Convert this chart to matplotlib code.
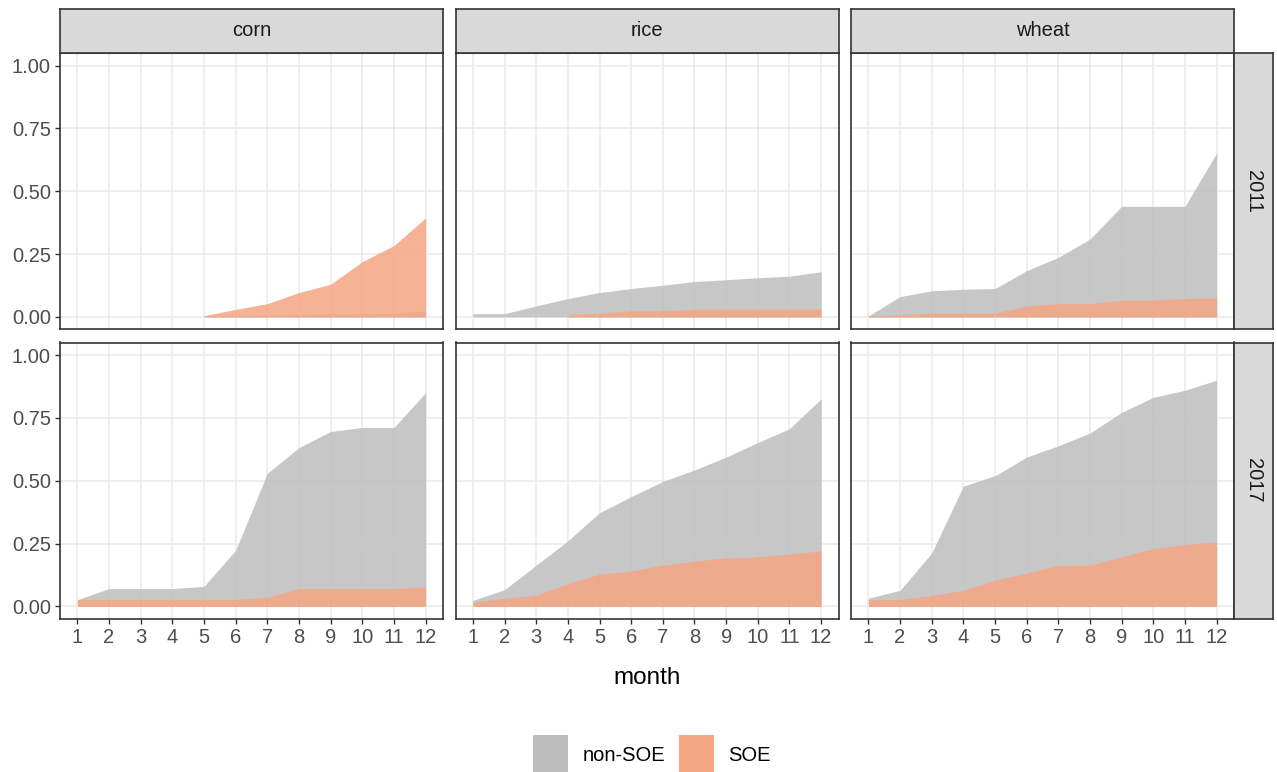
import numpy as np
import matplotlib
matplotlib.use("Agg")
import matplotlib.pyplot as plt
from matplotlib.patches import Patch

nan = np.nan

months = np.arange(1, 13)
crops = ["corn", "rice", "wheat"]
years = ["2011", "2017"]
ytick_values = [0.0, 0.25, 0.5, 0.75, 1.0]

# cumulative share by month
corn_2011_nonsoe = [nan, nan, nan, nan, 0.005, 0.005, 0.006, 0.008, 0.010, 0.012, 0.013, 0.025]
corn_2011_soe = [nan, nan, nan, nan, 0.005, 0.030, 0.053, 0.097, 0.130, 0.220, 0.284, 0.394]
rice_2011_nonsoe = [0.013, 0.013, 0.044, 0.073, 0.097, 0.113, 0.126, 0.141, 0.148, 0.156, 0.162, 0.180]
rice_2011_soe = [nan, nan, nan, 0.007, 0.015, 0.024, 0.024, 0.031, 0.031, 0.031, 0.031, 0.031]
wheat_2011_nonsoe = [0.004, 0.081, 0.104, 0.110, 0.113, 0.184, 0.237, 0.310, 0.440, 0.440, 0.440, 0.652]
wheat_2011_soe = [0.004, 0.007, 0.015, 0.015, 0.015, 0.044, 0.053, 0.053, 0.067, 0.067, 0.073, 0.075]

corn_2017_nonsoe = [0.027, 0.071, 0.071, 0.071, 0.080, 0.224, 0.530, 0.632, 0.696, 0.712, 0.712, 0.850]
corn_2017_soe = [0.027, 0.027, 0.027, 0.027, 0.027, 0.027, 0.037, 0.071, 0.071, 0.071, 0.071, 0.077]
rice_2017_nonsoe = [0.024, 0.067, 0.164, 0.261, 0.373, 0.437, 0.497, 0.543, 0.594, 0.652, 0.707, 0.826]
rice_2017_soe = [0.017, 0.033, 0.044, 0.091, 0.128, 0.141, 0.164, 0.180, 0.193, 0.197, 0.208, 0.221]
wheat_2017_nonsoe = [0.033, 0.064, 0.213, 0.479, 0.520, 0.594, 0.639, 0.690, 0.772, 0.832, 0.860, 0.900]
wheat_2017_soe = [0.027, 0.027, 0.044, 0.064, 0.104, 0.133, 0.164, 0.164, 0.197, 0.230, 0.246, 0.257]

series = {
    ("2011", "corn"): (corn_2011_nonsoe, corn_2011_soe),
    ("2011", "rice"): (rice_2011_nonsoe, rice_2011_soe),
    ("2011", "wheat"): (wheat_2011_nonsoe, wheat_2011_soe),
    ("2017", "corn"): (corn_2017_nonsoe, corn_2017_soe),
    ("2017", "rice"): (rice_2017_nonsoe, rice_2017_soe),
    ("2017", "wheat"): (wheat_2017_nonsoe, wheat_2017_soe),
}

GRAY = "#BEBEBE"
ORANGE = "#F4A582"
EDGE = "#333333"
STRIP = "#D9D9D9"

plt.rcParams["font.family"] = ["Liberation Sans", "DejaVu Sans"]

W, H = 1277, 772
fig = plt.figure(figsize=(W / 100, H / 100), dpi=100)


def px_axes(x0, y0, w, h):
    return fig.add_axes([x0 / W, 1 - (y0 + h) / H, w / W, h / H])


col_left = [60, 455.5, 851]
col_w = 383
row_top = [53, 342.5]
row_h = 276.5

for r, year in enumerate(years):
    for c, crop in enumerate(crops):
        ax = px_axes(col_left[c], row_top[r], col_w, row_h)
        nonsoe, soe = series[(year, crop)]
        ax.fill_between(months, 0, nonsoe, color=GRAY, alpha=0.85, lw=0)
        ax.fill_between(months, 0, soe, color=ORANGE, alpha=0.85, lw=0)
        ax.set_xlim(0.45, 12.55)
        ax.set_ylim(-0.05, 1.05)
        ax.set_xticks(months)
        ax.set_yticks(ytick_values)
        ax.set_xticklabels([str(m) for m in months])
        ax.set_yticklabels([f"{v:.2f}" for v in ytick_values])
        ax.grid(True, color="#EBEBEB", lw=1.2)
        ax.set_axisbelow(True)
        for s in ax.spines.values():
            s.set_color(EDGE)
            s.set_linewidth(1.2)
        ax.tick_params(colors=EDGE, labelcolor="#4D4D4D", labelsize=14.5,
                       length=3.5, width=1, pad=3)
        ax.tick_params(left=(c == 0), labelleft=(c == 0),
                       bottom=(r == 1), labelbottom=(r == 1))

        if r == 0:
            sax = px_axes(col_left[c], 9, col_w, 44)
            sax.set_facecolor(STRIP)
            sax.set_xticks([])
            sax.set_yticks([])
            for s in sax.spines.values():
                s.set_color(EDGE)
                s.set_linewidth(1.2)
            sax.text(0.5, 0.5, crop, ha="center", va="center",
                     fontsize=14.5, color="#1A1A1A", transform=sax.transAxes)

    rax = px_axes(col_left[2] + col_w, row_top[r], 39, row_h)
    rax.set_facecolor(STRIP)
    rax.set_xticks([])
    rax.set_yticks([])
    for s in rax.spines.values():
        s.set_color(EDGE)
        s.set_linewidth(1.2)
    rax.text(0.5, 0.5, year, ha="center", va="center", rotation=270,
             fontsize=14.5, color="#1A1A1A", transform=rax.transAxes)

fig.text(647 / W, 1 - 678 / H, "month", ha="center", va="center",
         fontsize=17.5, color="black")

handles = [
    Patch(facecolor=GRAY, edgecolor="none", label="non-SOE"),
    Patch(facecolor=ORANGE, edgecolor="none", label="SOE"),
]
fig.legend(handles=handles, loc="upper center", bbox_to_anchor=(652 / W, 1 - 725 / H),
           ncol=2, frameon=False, fontsize=14.5, handlelength=1.75, handleheight=2.6,
           handletextpad=0.7, columnspacing=0.7, borderpad=0)

fig.savefig("out.png", dpi=100)
